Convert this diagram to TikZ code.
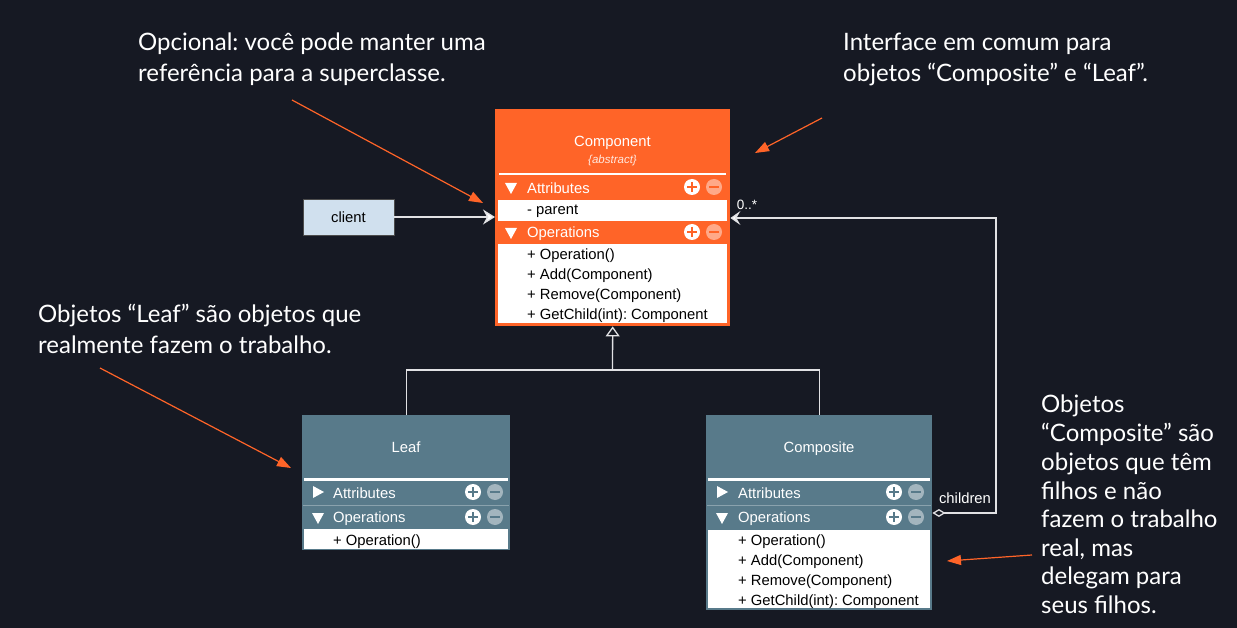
\documentclass[tikz,border=0pt]{standalone}
\usepackage{fontspec}
\setmainfont{Liberation Sans}
\newfontfamily\annfont{Lato}
\usetikzlibrary{arrows.meta}
\frenchspacing
\definecolor{bgc}{RGB}{22,25,35}
\definecolor{orng}{RGB}{255,100,40}
\definecolor{slate}{RGB}{88,122,138}
\definecolor{clientc}{RGB}{208,224,238}
\definecolor{linec}{RGB}{225,225,228}
\newcommand\pmicons[3]{%
  \fill[white] (#1,#2) circle (8pt);
  \draw[#3, line width=2pt] (#1-5,#2) -- (#1+5,#2) (#1,#2-5) -- (#1,#2+5);
  \fill[white, opacity=0.45] (#1+22,#2) circle (8pt);
  \draw[#3, line width=2pt] (#1+17,#2) -- (#1+27,#2);
}
\newcommand\dtri[2]{\fill[white] (#1-6,#2-5) -- (#1+6,#2-5) -- (#1,#2+6) -- cycle;}
\newcommand\rtri[2]{\fill[white] (#1-5,#2-6) -- (#1-5,#2+6) -- (#1+6,#2) -- cycle;}
\begin{document}
\begin{tikzpicture}[x=1pt,y=-1pt,
  ann/.style={font=\annfont\fontsize{24}{28}\selectfont, text=white, anchor=base west, inner sep=0pt},
  uml/.style={font=\fontsize{14.8}{17}\selectfont, inner sep=0pt, yshift=-1.5pt},
  hdr/.style={uml, text=white, anchor=west},
  ttl/.style={uml, text=white, anchor=center},
  mem/.style={uml, text=black, anchor=west},
  classbox/.style={anchor=north west, inner sep=0pt, draw=none},
  annarrow/.style={draw=orng, line width=1.2pt, -{Triangle[length=14pt,width=10pt,fill=orng]}},
  conn/.style={draw=linec, line width=1.3pt}]
\useasboundingbox (0,0) rectangle (1237,628);
\fill[bgc] (0,0) rectangle (1237,628);

% ---------- Component ----------
\node[classbox, fill=orng, minimum width=235pt, minimum height=217pt] (comp) at (495,109) {};
\node[ttl] (compT) at (612.5,141) {Component};
\node[uml, text=white!85!orng, font=\fontsize{11.5}{13}\selectfont\itshape, anchor=center] (compS) at (612.5,159) {\{abstract\}};
\fill[white] (499,173) rectangle (726,175.5);
\dtri{511}{188}
\node[hdr] (compA) at (527,187) {Attributes};
\pmicons{692}{187}{orng}
\fill[white] (498,200) rectangle (727,221);
\node[mem] (compP) at (527,210) {- parent};
\dtri{511}{233}
\node[hdr] (compO) at (527,232) {Operations};
\pmicons{692}{232}{orng}
\fill[white] (498,244) rectangle (727,323);
\node[mem] (compM1) at (527,254) {+ Operation()};
\node[mem] (compM2) at (527,274) {+ Add(Component)};
\node[mem] (compM3) at (527,294) {+ Remove(Component)};
\node[mem] (compM4) at (527,314) {+ GetChild(int): Component};

% ---------- Leaf ----------
\node[classbox, fill=slate, minimum width=208pt, minimum height=135pt] (leaf) at (302,415) {};
\node[ttl] (leafT) at (406,446) {Leaf};
\fill[white] (304,478) rectangle (508,480.5);
\rtri{318}{492}
\node[hdr] (leafA) at (333,492) {Attributes};
\pmicons{473}{492}{slate}
\draw[slate!70!white, line width=0.6pt] (303,505) -- (509,505);
\dtri{318}{518}
\node[hdr] (leafO) at (333,517) {Operations};
\pmicons{473}{517}{slate}
\fill[white] (304,529) rectangle (508,549);
\node[mem] (leafM1) at (333,540) {+ Operation()};

% ---------- Composite ----------
\node[classbox, fill=slate, minimum width=226pt, minimum height=195pt] (compos) at (706,415) {};
\node[ttl] (composT) at (819,447) {Composite};
\fill[white] (708,478) rectangle (930,480.5);
\rtri{722}{492}
\node[hdr] (composA) at (738,492) {Attributes};
\pmicons{894}{492}{slate}
\draw[slate!70!white, line width=0.6pt] (707,505) -- (931,505);
\dtri{722}{518}
\node[hdr] (composO) at (738,517) {Operations};
\pmicons{894}{517}{slate}
\fill[white] (708,530) rectangle (930,608);
\node[mem] (composM1) at (738,540) {+ Operation()};
\node[mem] (composM2) at (738,560) {+ Add(Component)};
\node[mem] (composM3) at (738,580) {+ Remove(Component)};
\node[mem] (composM4) at (738,600) {+ GetChild(int): Component};

% ---------- client ----------
\node[font=\fontsize{14.8}{17}\selectfont, inner sep=0pt, text=black, fill=clientc, draw=black!70, line width=0.6pt, minimum width=91pt, minimum height=36pt, anchor=center] (client) at (348.5,217) {client};

% ---------- connectors ----------
\draw[conn, -{Stealth[length=12pt,width=15pt,inset=4pt,fill=white]}] (client.east) -- (client.east -| comp.west);
\coordinate (genj) at (612.5,370);
\draw[conn] (leaf.north) |- (genj) -| (compos.north);
\draw[conn, -{Triangle[open,length=10pt,width=14pt,fill=bgc]}] (genj) -- (comp.south);
\coordinate (agA) at (996,513);
\coordinate (agB) at (996,218);
\draw[conn, {Diamond[open,length=13pt,width=8pt,fill=bgc]}-{Stealth[length=10pt,width=14pt,inset=4pt,fill=white]}]
  (agA -| compos.east) -- (agA) -- (agB) -- (agB -| comp.east);
\node[uml, text=white, font=\fontsize{13.5}{15}\selectfont, anchor=center] (mult) at (747,203) {0..*};
\node[uml, text=white, anchor=center] (role) at (965,497) {children};

% ---------- annotations ----------
\node[ann] (t1a) at (138,51) {Opcional: você pode manter uma};
\node[ann] (t1b) at (138,82) {referência para a superclasse.};
\node[ann] (t2a) at (843,51) {Interface em comum para};
\node[ann] (t2b) at (843,82) {objetos “Composite” e “Leaf”.};
\node[ann] (t3a) at (38,323) {Objetos “Leaf” são objetos que};
\node[ann] (t3b) at (38,353) {realmente fazem o trabalho.};
\node[ann] (t4a) at (1041,412) {Objetos};
\node[ann] (t4b) at (1041,441) {“Composite” são};
\node[ann] (t4c) at (1041,470) {objetos que têm};
\node[ann] (t4d) at (1041,499) {filhos e não};
\node[ann] (t4e) at (1041,527) {fazem o trabalho};
\node[ann] (t4f) at (1041,556) {real, mas};
\node[ann] (t4g) at (1041,584) {delegam para};
\node[ann] (t4h) at (1041,613) {seus filhos.};

\coordinate (a1s) at (292,100); \coordinate (a1e) at (483,203);
\coordinate (a2s) at (822,118); \coordinate (a2e) at (755,153);
\coordinate (a3s) at (100,368); \coordinate (a3e) at (291,468);
\coordinate (a4s) at (1032,555); \coordinate (a4e) at (947,561);
\draw[annarrow] (a1s) -- (a1e);
\draw[annarrow] (a2s) -- (a2e);
\draw[annarrow] (a3s) -- (a3e);
\draw[annarrow] (a4s) -- (a4e);
\end{tikzpicture}
\end{document}
